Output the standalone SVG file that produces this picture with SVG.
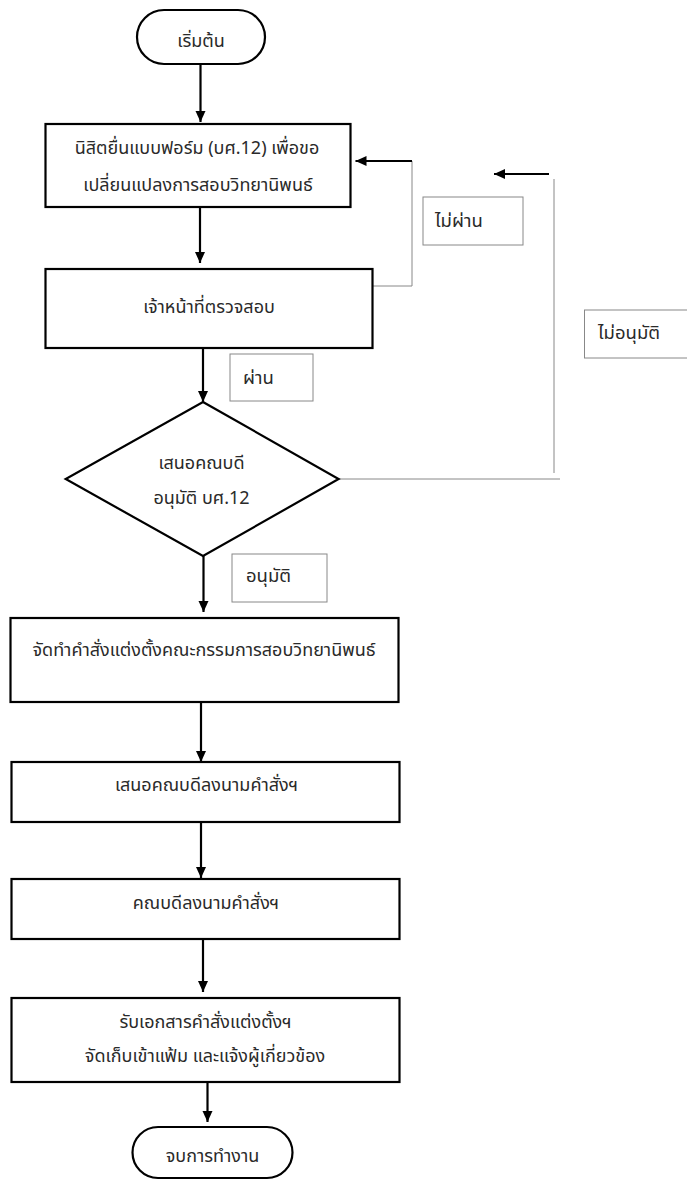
<svg xmlns="http://www.w3.org/2000/svg" width="687" height="1180" viewBox="0 0 687 1180">
<style>
  .box { fill: #fff; stroke: #000; stroke-width: 2.2; }
  .lbl { fill: #fff; stroke: #888; stroke-width: 1; }
  .t { font-family: "Noto Sans Thai", "Noto Sans", "DejaVu Sans", sans-serif; font-size: 18px; fill: #2a2a2a; text-anchor: middle; dominant-baseline: central; }
  .tl { font-family: "Noto Sans Thai", "Noto Sans", "DejaVu Sans", sans-serif; font-size: 18.5px; fill: #2a2a2a; dominant-baseline: central; }
  .arr { stroke: #000; stroke-width: 2.2; fill: none; marker-end: url(#ah); }
  .thin { stroke: #888; stroke-width: 1; fill: none; }
</style>
<defs>
  <marker id="ah" markerUnits="userSpaceOnUse" markerWidth="12" markerHeight="12" refX="11" refY="6" orient="auto">
    <path d="M0,1 L11,6 L0,11 z" fill="#000"/>
  </marker>
</defs>
<g id="connectors">
  <line class="arr" x1="200.5" y1="64" x2="200.5" y2="122"/>
  <line class="arr" x1="200" y1="207" x2="200" y2="263"/>
  <line class="arr" x1="203" y1="348" x2="203" y2="402"/>
  <line class="arr" x1="203.5" y1="556" x2="203.5" y2="612"/>
  <line class="arr" x1="201" y1="702" x2="201" y2="762"/>
  <line class="arr" x1="201" y1="822" x2="201" y2="878"/>
  <line class="arr" x1="203" y1="939" x2="203" y2="992"/>
  <line class="arr" x1="207.5" y1="1082" x2="207.5" y2="1122"/>
  <polyline class="thin" points="372,286 412,286 412,161"/>
  <line class="arr" x1="412" y1="161" x2="355.5" y2="161"/>
  <polyline class="thin" points="338.6,479 560,479"/>
  <line class="thin" x1="554" y1="473" x2="554" y2="179"/>
  <line class="arr" x1="549" y1="174" x2="494" y2="174"/>
</g>
<g id="start">
  <rect class="box" x="137" y="10" width="128" height="54" rx="27" ry="27"/>
  <text class="t" x="201" y="41">เริ่มต้น</text>
</g>
<g id="submit">
  <rect class="box" x="45.5" y="124" width="305" height="83"/>
  <text class="t" x="197" y="148">นิสิตยื่นแบบฟอร์ม (บศ.12) เพื่อขอ</text>
  <text class="t" x="198" y="185">เปลี่ยนแปลงการสอบวิทยานิพนธ์</text>
</g>
<g id="check">
  <rect class="box" x="45.5" y="269" width="327" height="79"/>
  <text class="t" x="209" y="307">เจ้าหน้าที่ตรวจสอบ</text>
</g>
<g id="label-fail">
  <rect class="lbl" x="423" y="197" width="100" height="48"/>
  <text class="tl" x="435" y="221">ไม่ผ่าน</text>
</g>
<g id="label-pass">
  <rect class="lbl" x="230" y="354" width="83" height="47"/>
  <text class="tl" x="243" y="378">ผ่าน</text>
</g>
<g id="label-reject">
  <rect class="lbl" x="584.5" y="310" width="110" height="48"/>
  <text class="tl" x="598" y="333">ไม่อนุมัติ</text>
</g>
<g id="decision">
  <polygon class="box" points="203,402 338.6,479 203,556 65.7,479"/>
  <text class="t" x="201.5" y="463">เสนอคณบดี</text>
  <text class="t" x="201.5" y="498">อนุมัติ บศ.12</text>
</g>
<g id="label-approve">
  <rect class="lbl" x="232" y="554" width="95" height="48"/>
  <text class="tl" x="246" y="576">อนุมัติ</text>
</g>
<g id="make-order">
  <rect class="box" x="10.5" y="618" width="388" height="84"/>
  <text class="t" x="204" y="650">จัดทำคำสั่งแต่งตั้งคณะกรรมการสอบวิทยานิพนธ์</text>
</g>
<g id="propose-sign">
  <rect class="box" x="11.5" y="762" width="388" height="60"/>
  <text class="t" x="206.5" y="785">เสนอคณบดีลงนามคำสั่งฯ</text>
</g>
<g id="dean-sign">
  <rect class="box" x="11.5" y="879" width="388" height="60"/>
  <text class="t" x="206" y="903">คณบดีลงนามคำสั่งฯ</text>
</g>
<g id="file">
  <rect class="box" x="11.5" y="998" width="388" height="84"/>
  <text class="t" x="205.5" y="1022">รับเอกสารคำสั่งแต่งตั้งฯ</text>
  <text class="t" x="205" y="1056">จัดเก็บเข้าแฟ้ม และแจ้งผู้เกี่ยวข้อง</text>
</g>
<g id="end">
  <rect class="box" x="132.5" y="1127" width="160" height="51" rx="25.5" ry="25.5"/>
  <text class="t" x="212.5" y="1156">จบการทำงาน</text>
</g>
</svg>
